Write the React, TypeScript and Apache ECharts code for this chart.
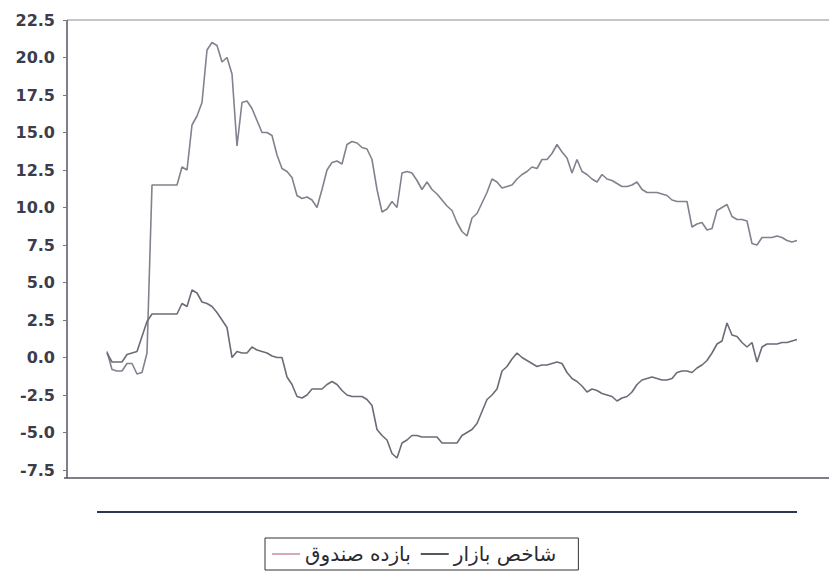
import React, { useEffect, useRef } from "react";
import * as echarts from "echarts";

// Daily observations (index = trading day), values in percent
const fundReturn: number[] = [
  0.4, -0.8, -0.9, -0.9, -0.4, -0.4, -1.1, -1.0, 0.3, 11.5,
  11.5, 11.5, 11.5, 11.5, 11.5, 12.7, 12.5, 15.5, 16.1, 17.0,
  20.5, 21.0, 20.8, 19.7, 20.0, 18.9, 14.1, 17.0, 17.1, 16.6,
  15.8, 15.0, 15.0, 14.8, 13.5, 12.6, 12.4, 12.0, 10.8, 10.6,
  10.7, 10.5, 10.0, 11.2, 12.5, 13.0, 13.1, 12.9, 14.2, 14.4,
  14.3, 14.0, 13.9, 13.2, 11.2, 9.7, 9.9, 10.4, 10.0, 12.3,
  12.4, 12.3, 11.8, 11.2, 11.7, 11.2, 10.9, 10.5, 10.1, 9.8,
  9.0, 8.4, 8.1, 9.3, 9.6, 10.3, 11.0, 11.9, 11.7, 11.3,
  11.4, 11.5, 11.9, 12.2, 12.4, 12.7, 12.6, 13.2, 13.2, 13.6,
  14.2, 13.7, 13.3, 12.3, 13.2, 12.4, 12.2, 11.9, 11.7, 12.2,
  11.9, 11.8, 11.6, 11.4, 11.4, 11.5, 11.7, 11.2, 11.0, 11.0,
  11.0, 10.9, 10.8, 10.5, 10.4, 10.4, 10.4, 8.7, 8.9, 9.0,
  8.5, 8.6, 9.8, 10.0, 10.2, 9.4, 9.2, 9.2, 9.1, 7.6,
  7.5, 8.0, 8.0, 8.0, 8.1, 8.0, 7.8, 7.7, 7.8,
];

const marketIndex: number[] = [
  0.3, -0.3, -0.3, -0.3, 0.2, 0.3, 0.4, 1.4, 2.4, 2.9,
  2.9, 2.9, 2.9, 2.9, 2.9, 3.6, 3.4, 4.5, 4.3, 3.7,
  3.6, 3.4, 3.0, 2.5, 2.0, 0.0, 0.4, 0.3, 0.3, 0.7,
  0.5, 0.4, 0.3, 0.1, 0.0, 0.0, -1.3, -1.8, -2.6, -2.7,
  -2.5, -2.1, -2.1, -2.1, -1.8, -1.6, -1.8, -2.2, -2.5, -2.6,
  -2.6, -2.6, -2.8, -3.2, -4.8, -5.2, -5.5, -6.4, -6.7, -5.7,
  -5.5, -5.2, -5.2, -5.3, -5.3, -5.3, -5.3, -5.7, -5.7, -5.7,
  -5.7, -5.2, -5.0, -4.8, -4.4, -3.6, -2.8, -2.5, -2.1, -0.9,
  -0.6, -0.1, 0.3, 0.0, -0.2, -0.4, -0.6, -0.5, -0.5, -0.4,
  -0.3, -0.4, -1.0, -1.4, -1.6, -1.9, -2.3, -2.1, -2.2, -2.4,
  -2.5, -2.6, -2.9, -2.7, -2.6, -2.3, -1.8, -1.5, -1.4, -1.3,
  -1.4, -1.5, -1.5, -1.4, -1.0, -0.9, -0.9, -1.0, -0.7, -0.5,
  -0.2, 0.3, 0.9, 1.1, 2.3, 1.5, 1.4, 1.0, 0.7, 1.0,
  -0.3, 0.7, 0.9, 0.9, 0.9, 1.0, 1.0, 1.1, 1.2,
];

const seriesNames: string[] = ["بازده صندوق", "شاخص بازار"];
const yTickMin = -7.5;
const yTickMax = 22.5;
const yTickStep = 2.5;

export default function App() {
  const ref = useRef<HTMLDivElement>(null);
  useEffect(() => {
    if (!ref.current) return;
    const chart = echarts.init(ref.current, undefined, { renderer: "svg" });
    const toPairs = (arr: number[]) => arr.map((v, i) => [i, v]);
    chart.setOption({
      animation: false,
      backgroundColor: "#ffffff",
      grid: { left: 67, right: 0, top: 20, height: 450, containLabel: false },
      xAxis: {
        type: "value",
        min: -8.0,
        max: 144.4,
        show: false,
      },
      yAxis: {
        type: "value",
        min: yTickMin,
        max: yTickMax,
        interval: yTickStep,
        axisLine: { show: false, onZero: false },
        axisTick: { show: true, inside: false, length: 4, lineStyle: { color: "#77777f" } },
        splitLine: { show: false },
        axisLabel: {
          formatter: (v: number) => v.toFixed(1),
          fontFamily: "DejaVu Sans",
          fontSize: 16,
          fontWeight: "bold",
          color: "#3c3c4a",
          margin: 12,
        },
      },
      legend: {
        left: 265,
        top: 538,
        padding: [6, 22, 6, 7],
        itemGap: 10,
        itemWidth: 28,
        itemHeight: 2,
        icon: "rect",
        borderColor: "#333",
        borderWidth: 1,
        textStyle: { fontFamily: "DejaVu Sans", fontSize: 20, color: "#2a2a30" },
        data: [
          { name: seriesNames[0], itemStyle: { color: "#d8a8bc" } },
          { name: seriesNames[1], itemStyle: { color: "#555560" } },
        ],
      },
      graphic: [
        { type: "line", shape: { x1: 67, y1: 20, x2: 829, y2: 20 }, style: { stroke: "#8a8a95", lineWidth: 1 } },
        { type: "line", shape: { x1: 67, y1: 20, x2: 67, y2: 478 }, style: { stroke: "#55555f", lineWidth: 1.5 } },
        { type: "line", shape: { x1: 64, y1: 478, x2: 829, y2: 478 }, style: { stroke: "#55555f", lineWidth: 1.5 } },
        { type: "line", shape: { x1: 97, y1: 512, x2: 797, y2: 512 }, style: { stroke: "#2d3550", lineWidth: 2 } },
      ],
      series: [
        {
          name: seriesNames[0],
          type: "line",
          data: toPairs(fundReturn),
          symbol: "none",
          itemStyle: { color: "#d8a8bc" },
          lineStyle: { color: "#83818d", width: 1.6 },
        },
        {
          name: seriesNames[1],
          type: "line",
          data: toPairs(marketIndex),
          symbol: "none",
          itemStyle: { color: "#555560" },
          lineStyle: { color: "#6c6c78", width: 1.6 },
        },
      ],
    });
    return () => chart.dispose();
  }, []);
  return <div ref={ref} style={{ width: 829, height: 578, position: "absolute", left: 0, top: 0 }} />;
}
